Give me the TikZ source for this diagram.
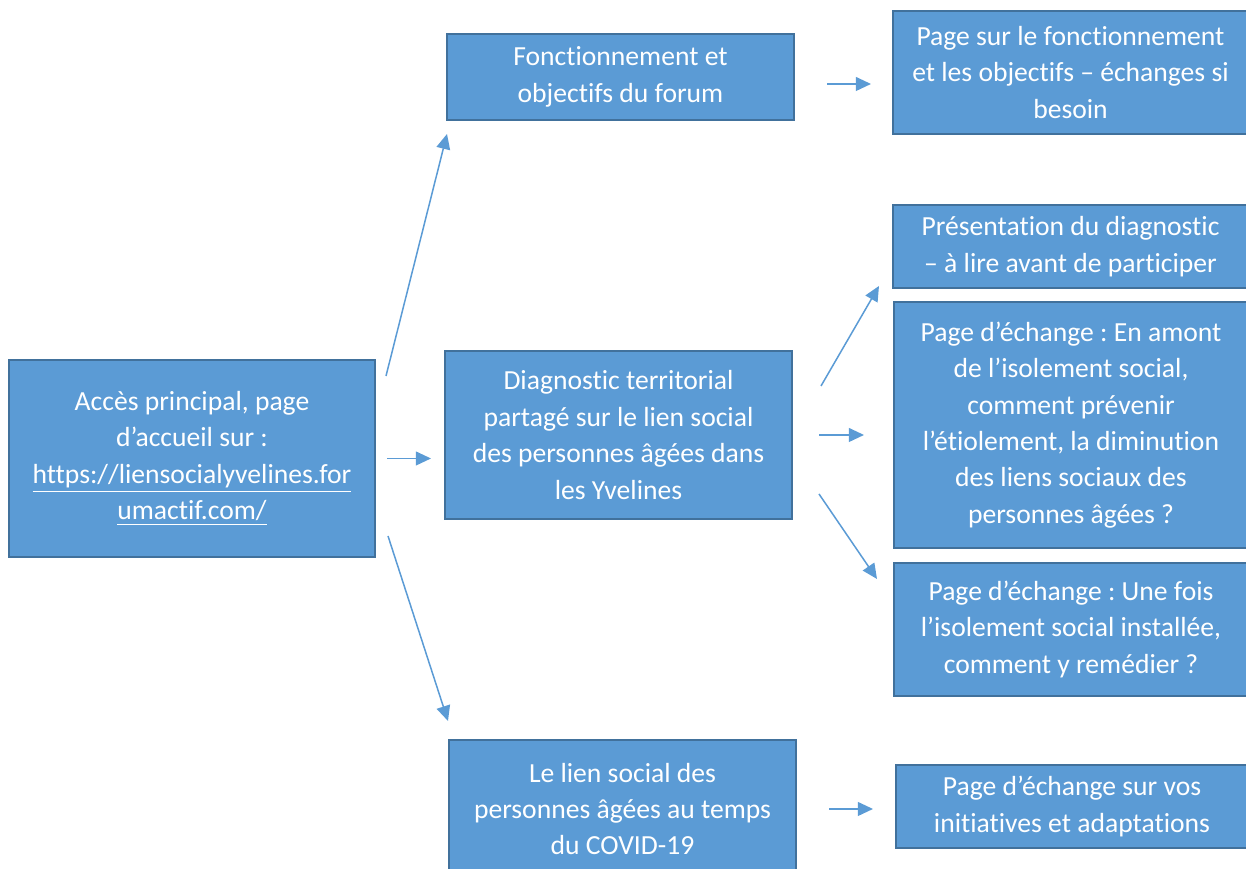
\documentclass[tikz,border=0pt]{standalone}
\usepackage{fontspec}
\setmainfont{Carlito}[Ligatures=NoCommon]
\usepackage{tikz}
\usetikzlibrary{arrows.meta,calc,positioning}
\definecolor{boxblue}{HTML}{5B9BD5}
\definecolor{boxedge}{HTML}{41719C}
\frenchspacing

\begin{document}
\begin{tikzpicture}[
box/.style={rectangle,draw=boxedge,fill=boxblue,line width=0.8pt,text=white,
  align=center,inner sep=2pt,font=\fontsize{11}{14.5}\selectfont},
arr/.style={-{Triangle[length=6pt,width=5.5pt]},draw=boxblue,line width=0.6pt}]
\useasboundingbox (0,0) rectangle (17.444,12.166);

\node (main) at (2.688,5.747) [box,minimum width=5.124cm,minimum height=2.758cm] {Accès principal, page\\ d’accueil sur :\\ \underline{https://liensocialyvelines.for}\\ \underline{umactif.com/}};
\node (forum) at (8.687,11.088) [box,minimum width=4.858cm,minimum height=1.204cm] {Fonctionnement et\\ objectifs du forum};
\node (pagefo) at (14.987,11.151) [box,minimum width=4.97cm,minimum height=1.722cm] {Page sur le fonctionnement\\ et les objectifs – échanges si\\ besoin};
\node (diag) at (8.659,6.076) [box,minimum width=4.858cm,minimum height=2.352cm] {Diagnostic territorial\\ partagé sur le lien social\\ des personnes âgées dans\\ les Yvelines};
\node (present) at (14.987,8.715) [box,minimum width=4.97cm,minimum height=1.162cm] {Présentation du diagnostic\\ – à lire avant de participer};
\node (amont) at (14.994,6.216) [box,minimum width=4.956cm,minimum height=3.444cm] {Page d’échange : En amont\\ de l’isolement social,\\ comment prévenir\\ l’étiolement, la diminution\\ des liens sociaux des\\ personnes âgées ?};
\node (unefois) at (14.994,3.353) [box,minimum width=4.956cm,minimum height=1.862cm] {Page d’échange : Une fois\\ l’isolement social installée,\\ comment y remédier ?};
\node (covid) at (8.715,0.84) [box,minimum width=4.858cm,minimum height=1.932cm] {Le lien social des\\ personnes âgées au temps\\ du COVID-19};
\node (initia) at (15.008,0.875) [box,minimum width=4.928cm,minimum height=1.162cm] {Page d’échange sur vos\\ initiatives et adaptations};

\draw[arr] ($(main.north east)+(0.14,-0.238)$) -- ($(forum.south west)+(0.014,-0.182)$);
\draw[arr,shorten <=0.154cm,shorten >=0.182cm] (main.east) -- (main.east -| diag.west);
\draw[arr] ($(main.south east)+(0.168,0.308)$) -- ($(covid.north west)+(0,0.252)$);
\draw[arr] ($(forum.east)+(0.448,-0.098)$) -- ($(forum.east -| pagefo.west)+(-0.294,-0.098)$);
\draw[arr] ($(diag.east)+(0.392,0.686)$) -- ($(present.south west)+(-0.182,0.042)$);
\draw[arr,shorten <=0.364cm,shorten >=0.406cm] (diag.east) -- (diag.east -| amont.west);
\draw[arr] ($(diag.south east)+(0.364,0.364)$) -- ($(unefois.north west)+(-0.224,-0.238)$);
\draw[arr,shorten <=0.448cm,shorten >=0.308cm] (covid.east) -- (covid.east -| initia.west);
\end{tikzpicture}
\end{document}
